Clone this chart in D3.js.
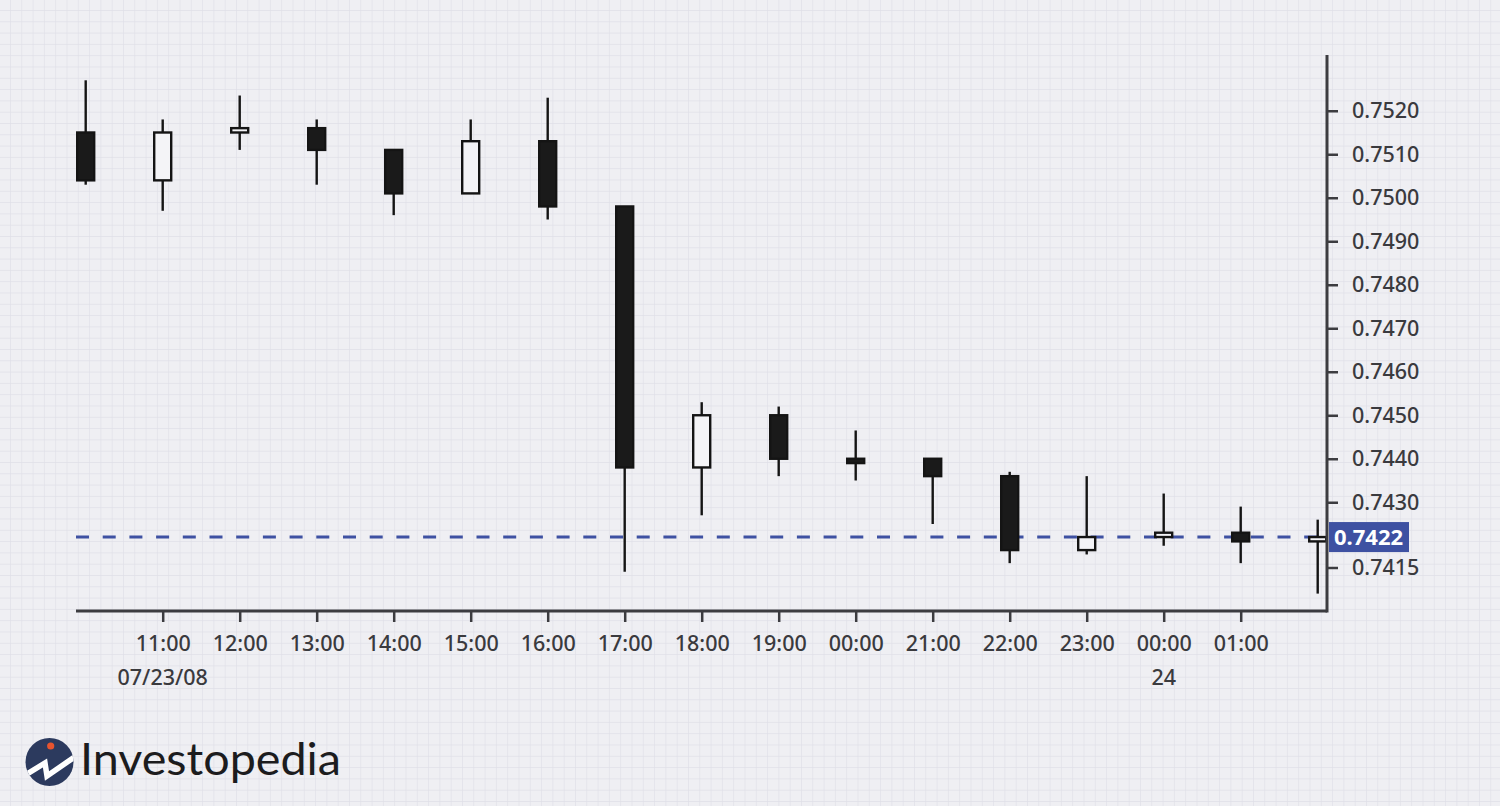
<!DOCTYPE html>
<html>
<head>
<meta charset="utf-8">
<script src="https://cdn.jsdelivr.net/npm/d3@7"></script>
<style>
  html, body { margin: 0; padding: 0; background: #efeff3; }
  svg { display: block; }
</style>
</head>
<body>
<svg id="chart" width="1500" height="806"></svg>
<script>
// ---- Data ----
const timeLabels = ["", "11:00", "12:00", "13:00", "14:00", "15:00", "16:00", "17:00", "18:00", "19:00", "00:00", "21:00", "22:00", "23:00", "00:00", "01:00", ""];
const dateLabels = ["", "07/23/08", "", "", "", "", "", "", "", "", "", "", "", "", "24", "", ""];
const openVals  = [0.7515, 0.7504, 0.7515, 0.7516, 0.7511, 0.7501, 0.7513, 0.7498, 0.7438, 0.7450, 0.7440, 0.7440, 0.7436, 0.7419, 0.7422, 0.7423, 0.7421];
const highVals  = [0.7527, 0.7518, 0.75235, 0.7518, 0.7511, 0.7518, 0.7523, 0.7498, 0.7453, 0.7452, 0.74465, 0.7440, 0.7437, 0.7436, 0.7432, 0.7429, 0.7426];
const lowVals   = [0.7503, 0.7497, 0.7511, 0.7503, 0.7496, 0.7501, 0.7495, 0.7414, 0.7427, 0.7436, 0.7435, 0.7425, 0.7416, 0.7418, 0.7420, 0.7416, 0.7409];
const closeVals = [0.7504, 0.7515, 0.7516, 0.7511, 0.7501, 0.7513, 0.7498, 0.7438, 0.7450, 0.7440, 0.7439, 0.7436, 0.7419, 0.7422, 0.7423, 0.7421, 0.7422];
const yTickValues = [0.7415, 0.7430, 0.7440, 0.7450, 0.7460, 0.7470, 0.7480, 0.7490, 0.7500, 0.7510, 0.7520];
const lastPrice = 0.7422;

// ---- Layout ----
const W = 1500, H = 806;
const axisLeft = 76, axisRight = 1327, axisBottom = 611, axisTop = 55;
const svg = d3.select("#chart");

// Background grid
const defs = svg.append("defs");
const pat = defs.append("pattern").attr("id", "grid").attr("patternUnits", "userSpaceOnUse")
  .attr("width", 11.3).attr("height", 11.3).attr("x", 10).attr("y", 10);
pat.append("rect").attr("width", 11.3).attr("height", 11.3).attr("fill", "#efeff3");
pat.append("path").attr("d", "M0,0 L11.3,0 M0,0 L0,11.3").attr("stroke", "#dfdfe7").attr("stroke-width", 1.2);
svg.append("rect").attr("width", W).attr("height", H).attr("fill", "url(#grid)");

// Scales
const idx = d3.range(openVals.length);
const x = d3.scalePoint().domain(idx).range([85.7, 1317.7]);
const y = d3.scaleLinear().domain([0.7405, 0.7405 + (axisBottom - axisTop) / 43500]).range([axisBottom, axisTop]);

const font = "'Noto Sans', 'Open Sans', sans-serif";
const axisColor = "#3c3c40";

// Dashed last-price line (behind candles)
svg.append("line")
  .attr("x1", axisLeft).attr("x2", axisRight)
  .attr("y1", y(lastPrice)).attr("y2", y(lastPrice))
  .attr("stroke", "#3e51a2").attr("stroke-width", 3)
  .attr("stroke-dasharray", "13,13.7");

// Candles
const bodyW = 17;
const g = svg.append("g");
idx.forEach(i => {
  const o = openVals[i], c = closeVals[i], h = highVals[i], l = lowVals[i];
  const up = c >= o;
  const cx = x(i);
  g.append("line").attr("x1", cx).attr("x2", cx).attr("y1", y(h)).attr("y2", y(l))
    .attr("stroke", "#141414").attr("stroke-width", 2.4);
  const top = y(Math.max(o, c)), bot = y(Math.min(o, c));
  g.append("rect")
    .attr("x", cx - bodyW / 2).attr("y", top)
    .attr("width", bodyW).attr("height", Math.max(bot - top, 2))
    .attr("fill", up ? "#f4f4f7" : "#1a1a1a")
    .attr("stroke", "#141414").attr("stroke-width", 2.4);
});

// X axis
const xAxis = d3.axisBottom(x)
  .tickValues(idx.filter(i => timeLabels[i] !== ""))
  .tickFormat(i => timeLabels[i])
  .tickSize(11).tickSizeOuter(0).tickPadding(14);
const gx = svg.append("g").attr("transform", `translate(0,${axisBottom})`).call(xAxis);
gx.select(".domain").attr("d", `M${axisLeft},0H${axisRight}`).attr("stroke", axisColor).attr("stroke-width", 3);
gx.selectAll(".tick line").attr("stroke", axisColor).attr("stroke-width", 2.5);
gx.selectAll(".tick text").attr("font-family", font).attr("font-size", 21.5).attr("font-weight", 500)
  .attr("fill", "#3a3a3e").attr("dy", "0.71em");
// date sub-labels
idx.filter(i => dateLabels[i] !== "").forEach(i => {
  svg.append("text").attr("x", x(i)).attr("y", 685)
    .attr("text-anchor", "middle").attr("font-family", font).attr("font-size", 21.5).attr("font-weight", 500)
    .attr("fill", "#3a3a3e").text(dateLabels[i]);
});

// Y axis (right)
const yAxis = d3.axisRight(y).tickValues(yTickValues).tickFormat(d3.format(".4f"))
  .tickSize(11).tickSizeOuter(0).tickPadding(14);
const gy = svg.append("g").attr("transform", `translate(${axisRight},0)`).call(yAxis);
gy.select(".domain").attr("d", `M0,${axisTop}V${axisBottom + 1.5}`).attr("stroke", axisColor).attr("stroke-width", 3);
gy.selectAll(".tick line").attr("stroke", axisColor).attr("stroke-width", 2.5);
gy.selectAll(".tick text").attr("font-family", font).attr("font-size", 21.5).attr("font-weight", 500)
  .attr("fill", "#3a3a3e");

// Last price label
const lp = svg.append("g").attr("transform", `translate(${axisRight + 2},${y(lastPrice)})`);
lp.append("rect").attr("x", 0).attr("y", -15).attr("width", 80).attr("height", 30).attr("fill", "#3e51a2");
lp.append("text").attr("x", 5).attr("y", 0).attr("dy", "0.36em")
  .attr("font-family", font).attr("font-size", 22).attr("font-weight", 700)
  .attr("fill", "#ffffff").text(d3.format(".4f")(lastPrice));

// Logo
const logo = svg.append("g");
defs.append("clipPath").attr("id", "logoClip").append("circle").attr("cx", 49.5).attr("cy", 762).attr("r", 24);
logo.append("circle").attr("cx", 49.5).attr("cy", 762).attr("r", 24).attr("fill", "#2c3a5e");
logo.append("path").attr("clip-path", "url(#logoClip)")
  .attr("d", "M22,777 L45,763 L47,776 L76,756")
  .attr("fill", "none").attr("stroke", "#ffffff").attr("stroke-width", 5.5).attr("stroke-linejoin", "miter");
logo.append("circle").attr("cx", 50.7).attr("cy", 746).attr("r", 3.6).attr("fill", "#e8542f");
logo.append("text").attr("x", 80).attr("y", 775)
  .attr("font-family", "Lato, 'Noto Sans', sans-serif").attr("font-size", 45).attr("font-weight", 400)
  .attr("fill", "#1c1c1e").attr("textLength", 261).attr("lengthAdjust", "spacingAndGlyphs")
  .text("Investopedia");
</script>
</body>
</html>
